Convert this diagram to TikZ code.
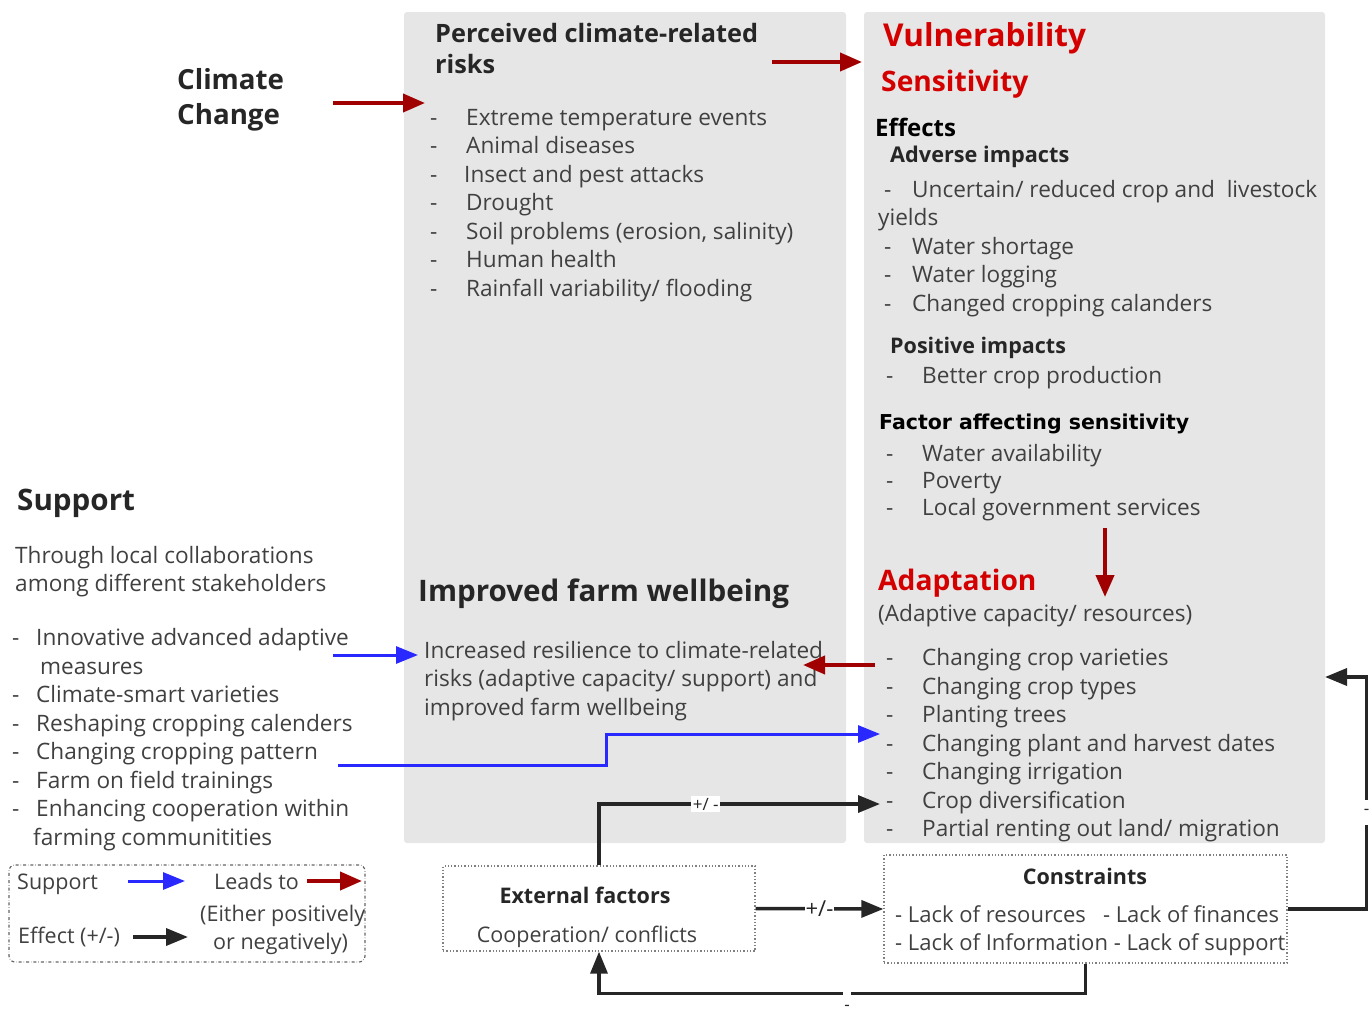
\documentclass[tikz,border=0pt]{standalone}
\usepackage{fontspec}
\setmainfont{Open Sans}
\newfontfamily\widefont{DejaVu Sans}
\usetikzlibrary{arrows.meta}

\definecolor{boxgray}{HTML}{E6E6E6}
\definecolor{txtgray}{HTML}{404040}
\definecolor{headgray}{HTML}{262626}
\definecolor{titlered}{HTML}{D40000}
\definecolor{arrowred}{HTML}{A00000}
\definecolor{supblue}{HTML}{2828FF}
\definecolor{lineblack}{HTML}{262626}

\tikzset{
  panel/.style={fill=boxgray, rounded corners=3pt, inner sep=0pt},
  txt/.style={anchor=west, inner sep=0pt, text height=17pt, text depth=0pt,
    text=txtgray, font=\fontsize{22.6}{27}\selectfont},
  smalltxt/.style={txt, font=\fontsize{21.5}{26}\selectfont},
  head/.style={txt, text=headgray, font=\fontsize{21.5}{26}\selectfont\bfseries},
  bighead/.style={txt, text height=23pt, text=headgray, font=\fontsize{29.6}{35}\selectfont\bfseries},
  redtitle/.style={txt, text height=22pt, text=titlered, font=\fontsize{28.2}{34}\selectfont\bfseries},
  redarrow/.style={draw=arrowred, line width=4pt, -{Triangle[length=22pt,width=18pt]}},
  bluearrow/.style={draw=supblue, line width=3pt, -{Triangle[length=22pt,width=17pt]}},
  blackarrow/.style={draw=lineblack, line width=3.5pt, -{Triangle[length=22pt,width=17pt]}},
  factorbox/.style={draw=gray, dotted, line width=1.3pt, inner sep=0pt},
  sign/.style={fill=white, inner sep=1.5pt, text=lineblack, font=\fontsize{17}{20}\selectfont}
}

\begin{document}
\begin{tikzpicture}[x=1pt, y=-1pt]
        \useasboundingbox (0,0) rectangle (1370,1017);
        % the two grey panels
        \node[panel, minimum width=442pt, minimum height=831pt] (riskpanel) at (625,427.5) {};
        \node[panel, minimum width=461pt, minimum height=831pt] (vulpanel) at (1094.5,427.5) {};

        % climate change
        \node[bighead, text height=20pt, font=\fontsize{27.7}{33}\selectfont\bfseries] (climate) at (177,79) {Climate};
        \node[bighead, text height=20pt, font=\fontsize{27.7}{33}\selectfont\bfseries] (change) at (177,114) {Change};
        \coordinate (ccA) at (333,103);
        \coordinate (riskA) at (425,103);
        \draw[redarrow] (ccA) -- (riskA);

        % perceived risks
        \node[head, text height=19pt, font=\fontsize{25.3}{30}\selectfont\bfseries] (risktitle) at (435,33) {Perceived climate-related};
        \node[head, text height=19pt, font=\fontsize{25.3}{30}\selectfont\bfseries] (risktitleb) at (435,64) {risks};
        \node[txt] (risk1) at (430,117) {\makebox[36pt][l]{-}Extreme temperature events};
        \node[txt] (risk2) at (430,145) {\makebox[36pt][l]{-}Animal diseases};
        \node[txt] (risk3) at (430,174) {\makebox[34pt][l]{-}Insect and pest attacks};
        \node[txt] (risk4) at (430,202) {\makebox[36pt][l]{-}Drought};
        \node[txt] (risk5) at (430,231) {\makebox[36pt][l]{-}Soil problems (erosion, salinity)};
        \node[txt] (risk6) at (430,259) {\makebox[36pt][l]{-}Human health};
        \node[txt] (risk7) at (430,288) {\makebox[36pt][l]{-}Rainfall variability/ flooding};
        \coordinate (riskB) at (772,62);
        \coordinate (vulA) at (862,62);
        \draw[redarrow] (riskB) -- (vulA);

        % vulnerability / sensitivity
        \node[redtitle, text height=23pt, font=\fontsize{31.5}{38}\selectfont\bfseries] (vul) at (883,35) {Vulnerability};
        \node[redtitle] (sens) at (881,80) {Sensitivity};
        \node[head, text=black, font=\fontsize{24}{28}\selectfont\bfseries] (effects) at (875,128) {Effects};
        \node[head, font=\fontsize{21.7}{26}\selectfont\bfseries] (adverse) at (890,154) {Adverse impacts};
        \node[txt] (adv1) at (884,189) {\makebox[28pt][l]{-}Uncertain/ reduced crop and \ livestock};
        \node[txt] (adv1b) at (878,217) {yields};
        \node[txt] (adv2) at (884,246) {\makebox[28pt][l]{-}Water shortage};
        \node[txt] (adv3) at (884,274) {\makebox[28pt][l]{-}Water logging};
        \node[txt] (adv4) at (884,303) {\makebox[28pt][l]{-}Changed cropping calanders};
        \node[head] (positive) at (890,345) {Positive impacts};
        \node[txt] (pos1) at (886,375) {\makebox[36pt][l]{-}Better crop production};
        \node[txt, text=black, font=\fontsize{20.5}{25}\selectfont\widefont\bfseries] (factor) at (879,421) {Factor affecting sensitivity};
        \node[txt] (fac1) at (886,453) {\makebox[36pt][l]{-}Water availability};
        \node[txt] (fac2) at (886,480) {\makebox[36pt][l]{-}Poverty};
        \node[txt] (fac3) at (886,507) {\makebox[36pt][l]{-}Local government services};
        \coordinate (sensB) at (1105,528);
        \coordinate (adaptA) at (1105,597);
        \draw[redarrow] (sensB) -- (adaptA);

        % adaptation
        \node[redtitle] (adapt) at (878,579) {Adaptation};
        \node[txt] (adaptsub) at (878,613) {(Adaptive capacity/ resources)};
        \node[txt] (ad1) at (886,657) {\makebox[36pt][l]{-}Changing crop varieties};
        \node[txt] (ad2) at (886,686) {\makebox[36pt][l]{-}Changing crop types};
        \node[txt] (ad3) at (886,714) {\makebox[36pt][l]{-}Planting trees};
        \node[txt] (ad4) at (886,743) {\makebox[36pt][l]{-}Changing plant and harvest dates};
        \node[txt] (ad5) at (886,771) {\makebox[36pt][l]{-}Changing irrigation};
        \node[txt] (ad6) at (886,800) {\makebox[36pt][l]{-}Crop diversification};
        \node[txt] (ad7) at (886,828) {\makebox[36pt][l]{-}Partial renting out land/ migration};

        % improved farm wellbeing
        \node[bighead] (well) at (418,590) {Improved farm wellbeing};
        \node[txt] (well1) at (424,650) {Increased resilience to climate-related};
        \node[txt] (well2) at (424,678) {risks (adaptive capacity/ support) and};
        \node[txt] (well3) at (424,707) {improved farm wellbeing};
        \coordinate (adaptB) at (875,665);
        \coordinate (wellA) at (803,665);
        \draw[redarrow] (adaptB) -- (wellA);

        % support
        \node[bighead] (support) at (17,499) {Support};
        \node[txt] (sup0) at (15,555) {Through local collaborations};
        \node[txt] (sup0b) at (15,583) {among different stakeholders};
        \node[txt] (sup1) at (12,637) {\makebox[24pt][l]{-}Innovative advanced adaptive};
        \node[txt] (sup1b) at (40,666) {measures};
        \node[txt] (sup2) at (12,694) {\makebox[24pt][l]{-}Climate-smart varieties};
        \node[txt] (sup3) at (12,723) {\makebox[24pt][l]{-}Reshaping cropping calenders};
        \node[txt] (sup4) at (12,751) {\makebox[24pt][l]{-}Changing cropping pattern};
        \node[txt] (sup5) at (12,780) {\makebox[24pt][l]{-}Farm on field trainings};
        \node[txt] (sup6) at (12,808) {\makebox[24pt][l]{-}Enhancing cooperation within};
        \node[txt] (sup6b) at (33,837) {farming communitities};
        \coordinate (supA) at (333,655);
        \coordinate (wellB) at (418,655);
        \draw[bluearrow] (supA) -- (wellB);
        \coordinate (supB) at (338,765);
        \coordinate (adaptC) at (880,734);
        \draw[bluearrow] (supB) -- ++(268,0) |- (adaptC);

        % external factors and constraints
        \node[factorbox, minimum width=312pt, minimum height=85pt] (ext) at (599,908.5) {};
        \node[head, anchor=center] (exttitle) at (585,895) {External factors};
        \node[smalltxt, anchor=center] (exttext) at (587,934) {Cooperation/ conflicts};
        \node[factorbox, minimum width=403pt, minimum height=108pt] (cons) at (1085.5,909) {};
        \node[head, anchor=center] (constitle) at (1085,876) {Constraints};
        \node[smalltxt, font=\fontsize{22}{26}\selectfont] (cons1) at (895,914) {- Lack of resources \ \ - Lack of finances};
        \node[smalltxt, font=\fontsize{22}{26}\selectfont] (cons2) at (895,942) {- Lack of Information - Lack of support};
        \coordinate (adaptD) at (880,804);
        \draw[blackarrow] (ext.north) |- node[sign, pos=0.69] {+/ -} (adaptD);
        \draw[blackarrow] (ext.east) -- node[sign, inner xsep=1pt, font=\fontsize{22}{26}\selectfont] {+/-} (cons.west);
        \draw[blackarrow] (cons.south) -- ++(0,30) -| node[sign, pos=0.245, anchor=north, yshift=4pt, text height=18pt, inner ysep=1pt] {-} (ext.south);
        \coordinate (adaptE) at (1325,677);
        \draw[blackarrow] (cons.east) -- ++(79,0) |- node[sign, pos=0.209, inner sep=0pt, minimum width=10pt, minimum height=25pt] {-} (adaptE);

        % legend
        \node[draw=gray!80!black, dash dot, line width=1.2pt, rounded corners=6pt, minimum width=356pt, minimum height=97pt, inner sep=0pt] (legend) at (187,913.5) {};
        \node[smalltxt] (legsup) at (17,881) {Support};
        \node[smalltxt] (leglead) at (214,881) {Leads to};
        \node[smalltxt] (legeff) at (18,935) {Effect (+/-)};
        \node[smalltxt] (legeither) at (200,913) {(Either positively};
        \node[smalltxt] (legneg) at (213,941) {or negatively)};
        \coordinate (lbA) at (128,881);
        \coordinate (lbB) at (185,881);
        \draw[bluearrow] (lbA) -- (lbB);
        \coordinate (lrA) at (307,881);
        \coordinate (lrB) at (362,881);
        \draw[redarrow] (lrA) -- (lrB);
        \coordinate (lkA) at (133,937);
        \coordinate (lkB) at (188,937);
        \draw[blackarrow] (lkA) -- (lkB);
    \end{tikzpicture}
\end{document}
